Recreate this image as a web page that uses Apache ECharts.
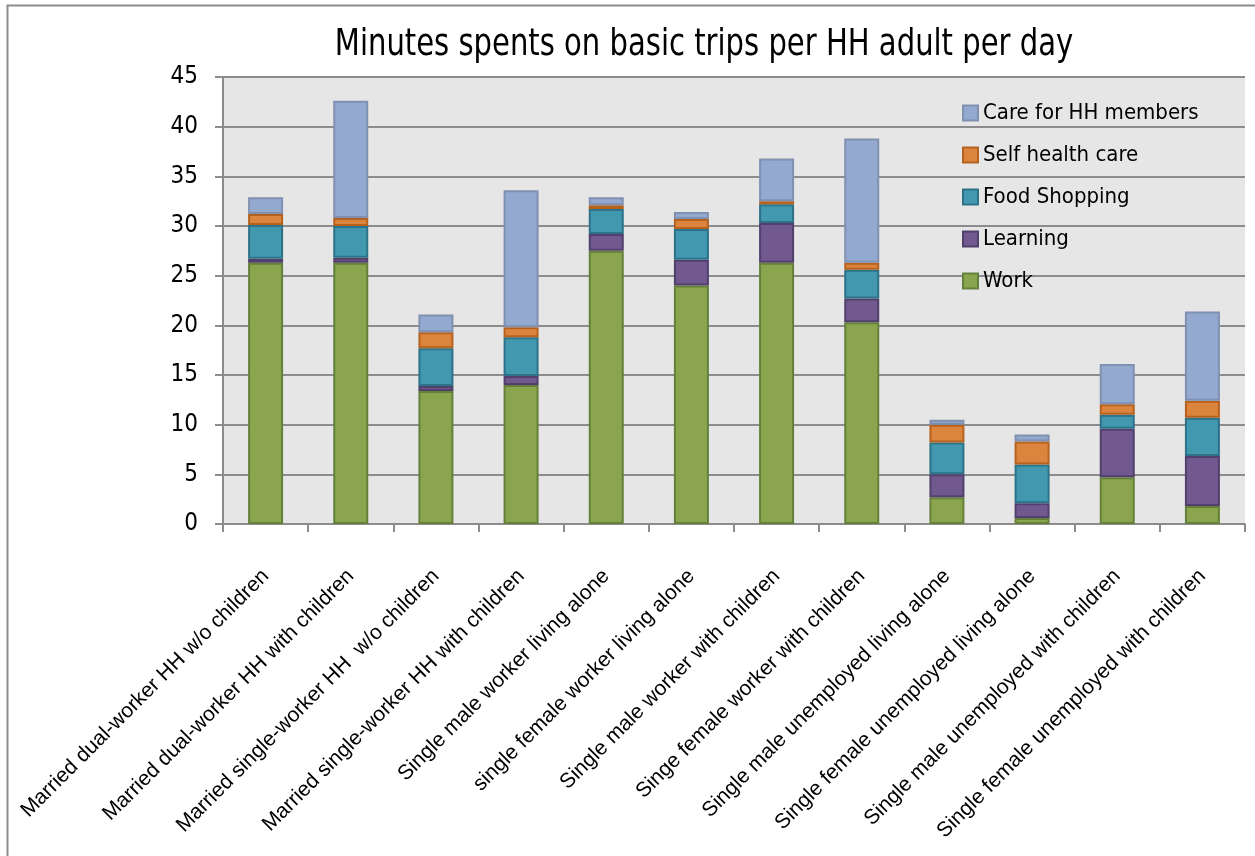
<!DOCTYPE html>
<html>
<head>
<meta charset="utf-8">
<script src="https://cdn.jsdelivr.net/npm/echarts@6/dist/echarts.min.js"></script>
<style>
  html, body { margin: 0; padding: 0; background: #ffffff; }
  #chart { width: 1255px; height: 856px; }
</style>
</head>
<body>
<div id="chart"></div>
<script>
// Household types along the x axis
const categories = [
  'Married dual-worker HH w/o children',
  'Married dual-worker HH with children',
  'Married single-worker HH  w/o children',
  'Married single-worker HH with children',
  'Single male worker living alone',
  'single female worker living alone',
  'Single male worker with children',
  'Singe female worker with children',
  'Single male unemployed living alone',
  'Single female unemployed living alone',
  'Single male unemployed with children',
  'Single female unemployed with children'
];

// Minutes per HH adult per day, by trip purpose
const work     = [26.3, 26.3, 13.4, 14.0, 27.5, 24.0, 26.3, 20.3, 2.7, 0.6, 4.7, 1.8];
const learning = [0.4, 0.5, 0.5, 0.9, 1.7, 2.6, 4.0, 2.4, 2.3, 1.5, 4.9, 5.05];
const food     = [3.4, 3.2, 3.8, 3.9, 2.5, 3.1, 1.9, 2.9, 3.2, 3.9, 1.4, 3.85];
const selfCare = [1.1, 0.8, 1.6, 1.0, 0.4, 1.0, 0.3, 0.7, 1.8, 2.3, 1.05, 1.7];
const hhCare   = [1.7, 11.8, 1.8, 13.8, 0.8, 0.7, 4.3, 12.5, 0.5, 0.7, 4.05, 9.0];

const seriesNames = ['Work', 'Learning', 'Food Shopping', 'Self health care', 'Care for HH members'];
const legendOrder = ['Care for HH members', 'Self health care', 'Food Shopping', 'Learning', 'Work'];
const yTicks = { min: 0, max: 45, interval: 5 };
const titleText = 'Minutes spents on basic trips per HH adult per day';

// Pick a narrow sans face if one is installed
function hasFont(name) {
  const c = document.createElement('canvas').getContext('2d');
  const s = 'Minutes spents on basic trips 0123456789';
  c.font = '40px monospace';
  const a = c.measureText(s).width;
  c.font = '40px "' + name + '", monospace';
  const b = c.measureText(s).width;
  return Math.abs(a - b) > 0.5;
}
const narrowCandidates = ['Liberation Sans Narrow', 'DejaVu Sans Condensed', 'Roboto Condensed'];
let narrow = null;
for (const f of narrowCandidates) { if (hasFont(f)) { narrow = f; break; } }
const narrowFamily = narrow ? '"' + narrow + '"' : '"Liberation Sans"';
const isArialNarrow = narrow === 'Liberation Sans Narrow';

const fills   = ['#8aa54d', '#71588f', '#4298af', '#db843d', '#93a9cf'];
const borders = ['#64803a', '#51406b', '#2d7288', '#b5621f', '#8090b0'];
const values  = [work, learning, food, selfCare, hhCare];

const legendFont = isArialNarrow ? 26 : 22;

const chart = echarts.init(document.getElementById('chart'), null, { renderer: 'canvas' });

chart.setOption({
  animation: false,
  backgroundColor: '#ffffff',
  legend: {
    data: legendOrder,
    orient: 'vertical',
    left: 957,
    top: 97,
    itemWidth: 15,
    itemHeight: 15,
    itemGap: 42 - legendFont,
    icon: 'rect',
    textStyle: { fontFamily: narrowFamily, fontSize: legendFont, color: '#000000' }
  },
  grid: {
    left: 223, right: 10, top: 77, bottom: 332,
    show: true, backgroundColor: '#e6e6e6', borderWidth: 0
  },
  xAxis: {
    type: 'category',
    data: categories,
    axisLine: { lineStyle: { color: '#8c8c8c', width: 2 } },
    axisTick: { show: true, length: 8, lineStyle: { color: '#8c8c8c', width: 2 } },
    axisLabel: {
      rotate: 45, interval: 0, margin: 49,
      fontFamily: '"Liberation Sans", Arial, sans-serif', fontSize: 21, color: '#000000'
    }
  },
  yAxis: {
    type: 'value',
    min: yTicks.min, max: yTicks.max, interval: yTicks.interval,
    axisLine: { show: true, lineStyle: { color: '#8c8c8c', width: 2 } },
    axisTick: { show: true, length: 8, lineStyle: { color: '#8c8c8c', width: 2 } },
    splitLine: { lineStyle: { color: '#8c8c8c', width: 2 } },
    axisLabel: { fontFamily: narrowFamily, fontSize: 24, color: '#000000', margin: 25 }
  },
  graphic: [
    {
      type: 'rect', silent: true, z: -1,
      shape: { x: 7.5, y: 5.5, width: 1300, height: 900 },
      style: { fill: 'none', stroke: '#8c8c8c', lineWidth: 2 }
    },
    {
      // chart title, horizontally condensed to the narrow face's proportions
      type: 'text', silent: true,
      x: 704, y: 45,
      scaleX: isArialNarrow ? 1 : 0.85,
      style: {
        text: titleText,
        fontFamily: narrowFamily, fontSize: 38, fill: '#000000',
        textAlign: 'center', textVerticalAlign: 'middle'
      }
    }
  ],
  series: seriesNames.map((name, i) => ({
    name: name,
    type: 'bar',
    stack: 'trips',
    barWidth: 35,
    data: values[i],
    itemStyle: { color: fills[i], borderColor: borders[i], borderWidth: 2 }
  }))
});
</script>
</body>
</html>
